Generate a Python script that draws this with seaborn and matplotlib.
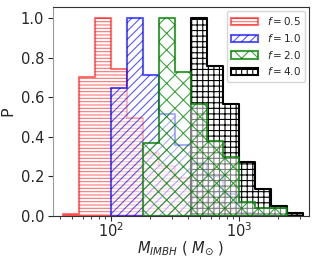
import numpy as np
import pandas as pd
import matplotlib
matplotlib.use("Agg")
import matplotlib.pyplot as plt
import seaborn as sns

# log10 of bin edges (M_IMBH in solar masses)
log_edges = [1.625, 1.75, 1.875, 2.0, 2.125, 2.25, 2.375, 2.5, 2.625, 2.75,
             2.875, 3.0, 3.125, 3.25, 3.375, 3.5]

labels = ["$f=0.5$", "$f=1.0$", "$f=2.0$", "$f=4.0$"]
# first bin index of each series and normalised heights (P)
start_bin = [0, 3, 5, 8]
p_f05 = [0.01, 0.70, 1.0, 0.74, 0.495, 0.32, 0.255, 0.19, 0.125, 0.074, 0.03, 0.014, 0.006, 0.003]
p_f10 = [0.645, 1.0, 0.71, 0.515, 0.36, 0.27, 0.20, 0.113, 0.018, 0.009, 0.004]
p_f20 = [0.367, 1.0, 0.726, 0.566, 0.379, 0.30, 0.072, 0.043, 0.04]
p_f40 = [1.0, 0.755, 0.564, 0.274, 0.135, 0.052, 0.014]
heights = [p_f05, p_f10, p_f20, p_f40]

colors = ["#ff0000", "#0000ff", "#008000", "#000000"]
alphas = [0.55, 0.65, 0.75, 1.0]
hatches = ["-----", "////", "xx", "+++"]
zorders = [1.0, 1.1, 1.3, 1.2]

sns.set_theme(style="ticks")
plt.rcParams["font.family"] = ["DejaVu Sans"]
plt.rcParams["hatch.linewidth"] = 0.8

fig = plt.figure(figsize=(3.17, 2.61), dpi=100)
ax = fig.add_axes([0.166, 0.172, 0.809, 0.801])

handles = []
for lab, s0, h, c, a, ht, z in zip(labels, start_bin, heights, colors, alphas, hatches, zorders):
    e = [float(v) for v in log_edges[s0:s0 + len(h) + 1]]
    ea = np.array(e)
    df = pd.DataFrame({"m": 10 ** ((ea[:-1] + ea[1:]) / 2), "w": np.asarray(h, float)})
    n_before = len(ax.collections)
    sns.histplot(data=df, x="m", weights="w", bins=e, log_scale=True, element="step",
                 fill=True, stat="count", ax=ax, color=c, linewidth=1.5)
    coll = ax.collections[n_before]
    rgba = matplotlib.colors.to_rgba(c, a)
    coll.set_alpha(None)
    coll.set_facecolor((1, 1, 1, 0.5))
    coll.set_edgecolor(rgba)
    coll.set_hatch(ht)
    coll.set_linewidth(1.5)
    coll.set_zorder(z)
    coll.set_label(lab)
    handles.append(coll)

ax.set_xlim(35, 3525)
ax.set_ylim(0, 1.055)
ax.set_yticks([0.0, 0.2, 0.4, 0.6, 0.8, 1.0])
ax.tick_params(axis="both", labelsize=10.5, length=3.5, width=0.8, color="0.15", pad=2.5)
ax.tick_params(axis="x", which="major", pad=0.5)
ax.tick_params(axis="x", which="minor", length=2.5, width=0.6)
ax.set_ylabel("P", fontsize=11.5, labelpad=4)
ax.set_xlabel(r"$M_{IMBH}$ ( $M_{\odot}$ )", fontsize=10.5, labelpad=-1)
for sp in ax.spines.values():
    sp.set_visible(True)
    sp.set_color("0.2")
    sp.set_linewidth(0.8)
ax.spines["left"].set_color("0.6")

ax.legend(handles=handles, labels=labels, loc="upper right", fontsize=7.5,
          handlelength=2.6, handletextpad=0.8, borderpad=0.4, labelspacing=0.45,
          frameon=True, borderaxespad=0.4)

fig.savefig("out.png", dpi=100)
